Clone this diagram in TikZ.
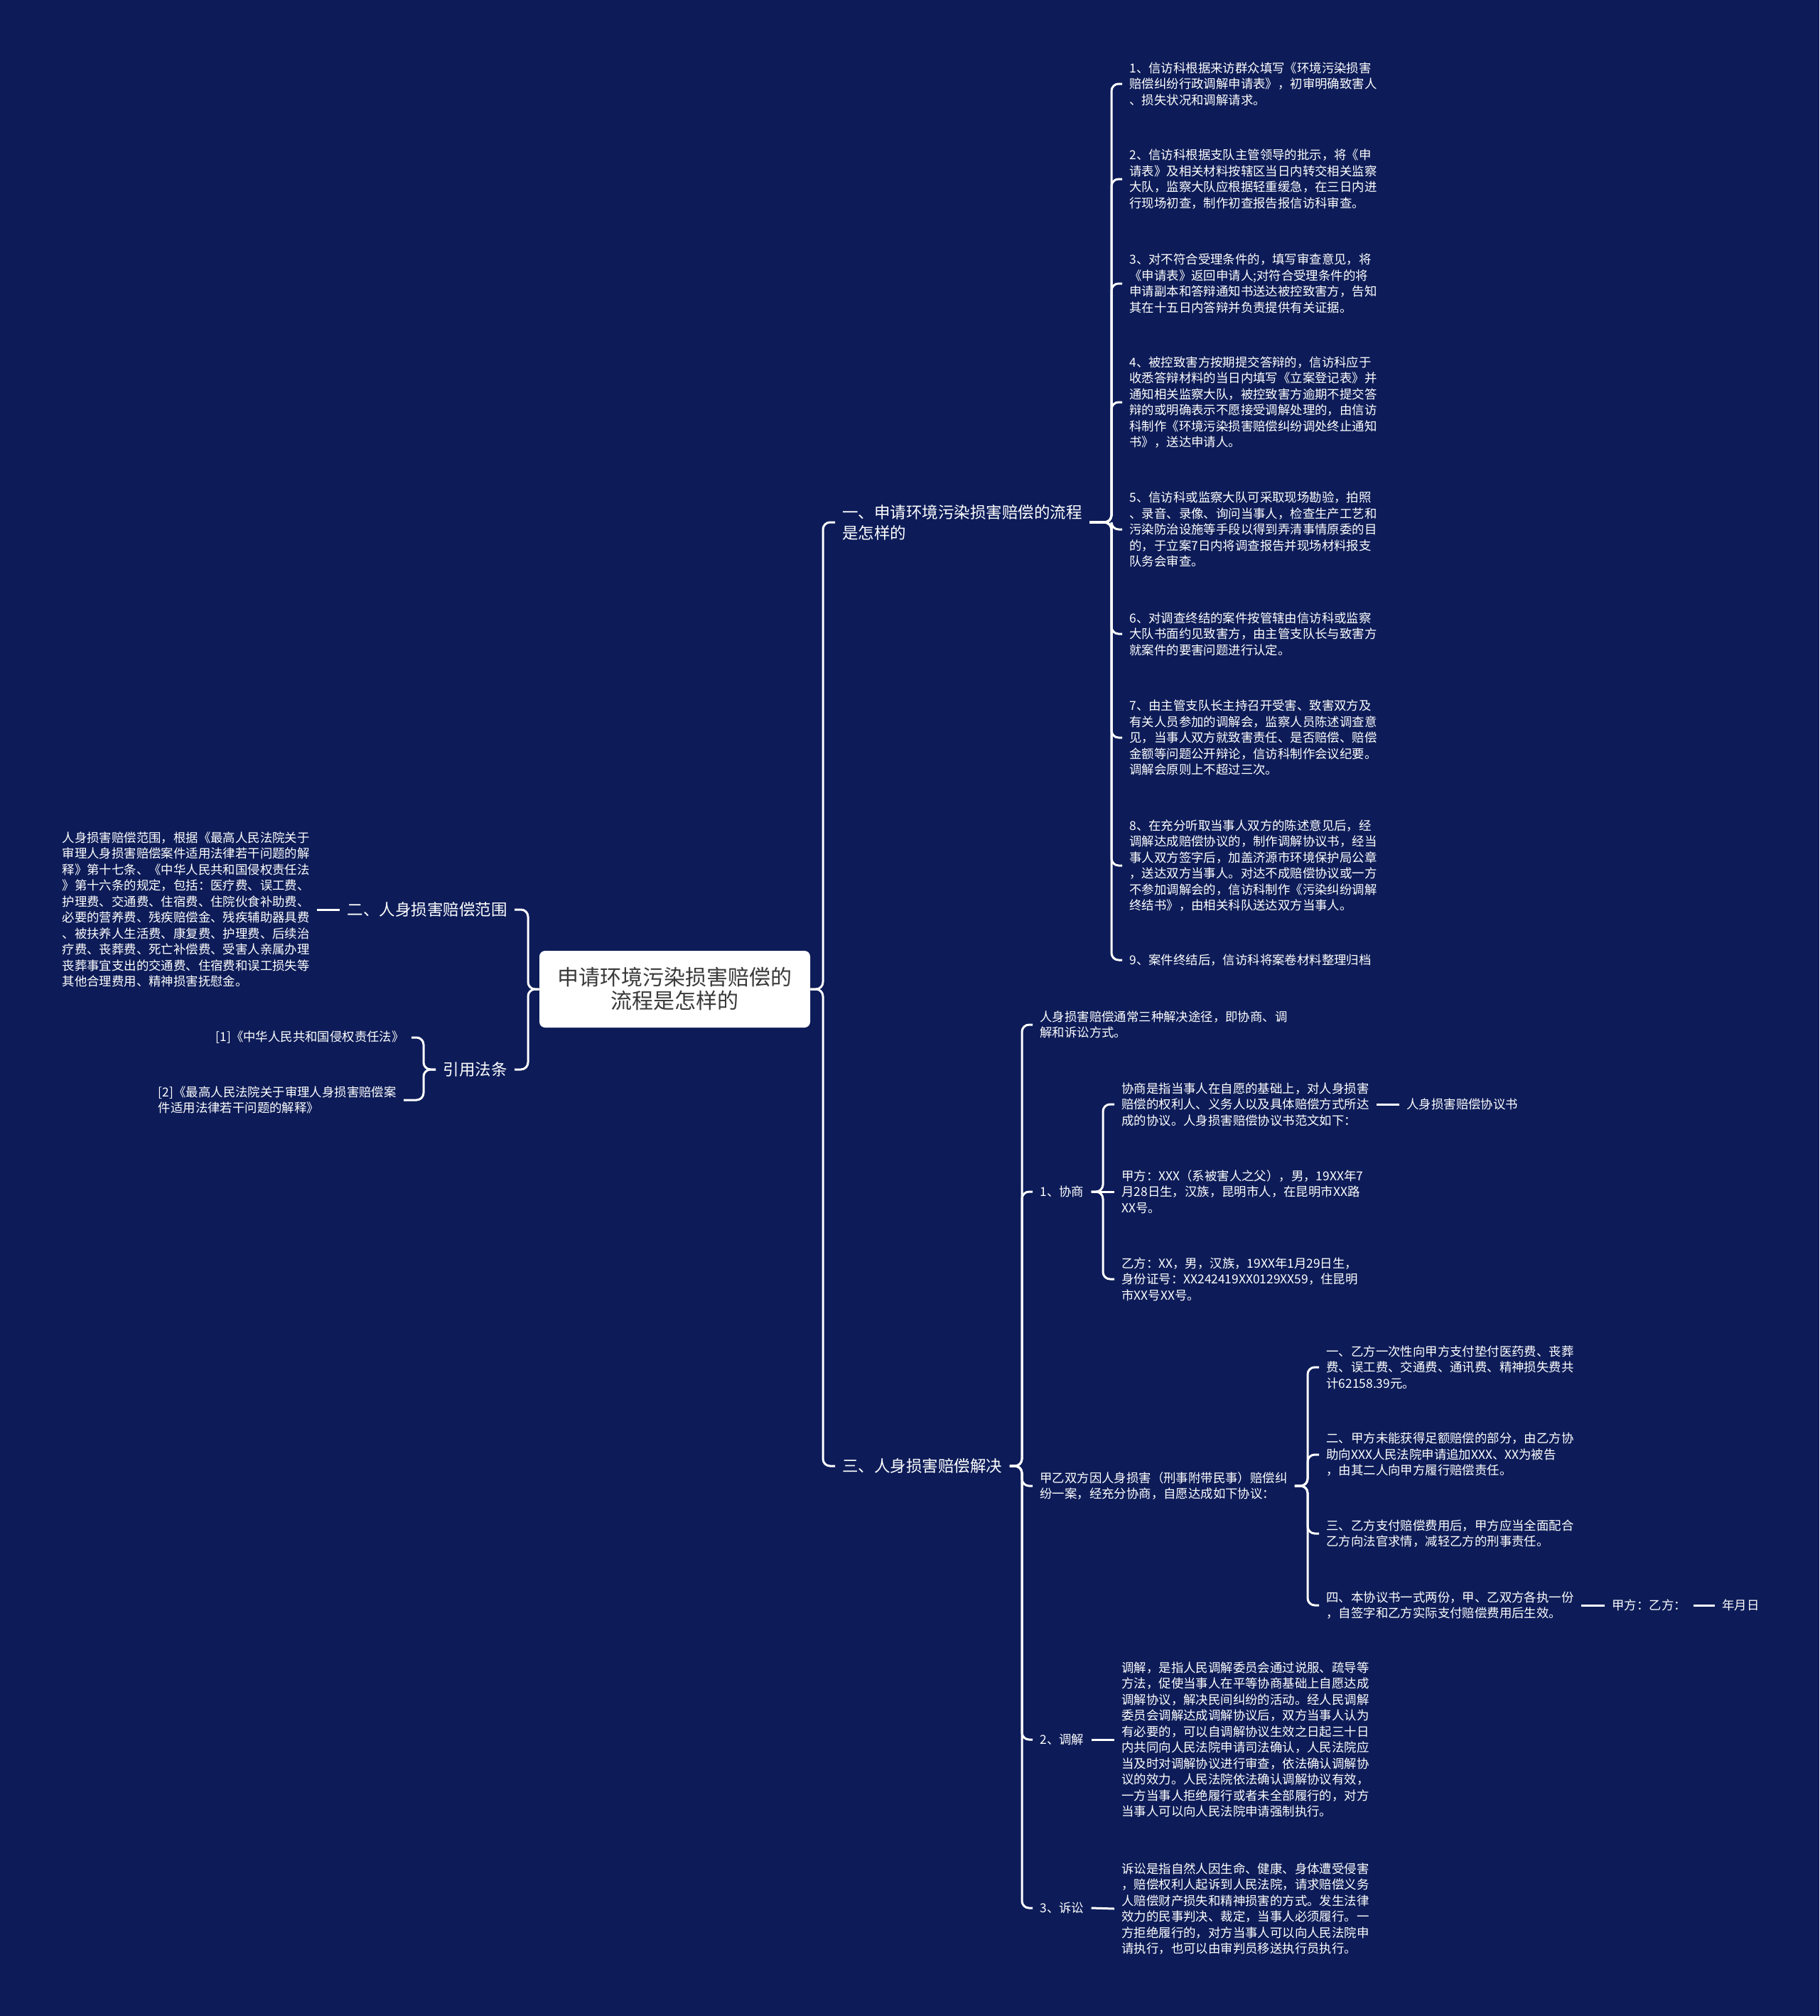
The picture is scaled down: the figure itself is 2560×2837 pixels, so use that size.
\documentclass[tikz,border=0pt]{standalone}
\usepackage{fontspec}
\setmainfont{Noto Sans CJK SC}
\definecolor{bgnavy}{HTML}{0D1C58}
\definecolor{rootgray}{HTML}{3A3A3A}
\begin{document}
\begin{tikzpicture}[
  x=0.5pt, y=-0.5pt,
  leaf/.style={text=white, align=left, inner sep=5pt,
               font=\fontsize{8.7}{11.25}\selectfont},
  branch/.style={text=white, align=left, inner sep=5pt,
                 font=\fontsize{11.25}{14.5}\selectfont},
  rootbox/.style={rectangle, rounded corners=4pt, fill=white, text=rootgray,
                  align=center, minimum width=190.5pt, minimum height=54pt,
                  font=\fontsize{15}{16.5}\selectfont},
  link/.style={draw=white, line width=1.5pt, rounded corners=5pt}
]
\fill[bgnavy] (0,0) rectangle (2560,2837);
\useasboundingbox (0,0) rectangle (2560,2837);

% root
\node[rootbox] (root) at (949.5,1392)
  {申请环境污染损害赔偿的\\流程是怎样的};

% main branches
\node[branch, anchor=west] (b1) at (1175,735)
  {一、申请环境污染损害赔偿的流程\\是怎样的};
\node[branch, anchor=west] (b3) at (1175,2063) {三、人身损害赔偿解决};
\node[branch, anchor=east] (b2) at (724,1280) {二、人身损害赔偿范围};
\node[branch, anchor=east] (yf) at (724,1505) {引用法条};

% branch one: steps
\node[leaf, anchor=west] (s1) at (1579,118)
  {1、信访科根据来访群众填写《环境污染损害\\赔偿纠纷行政调解申请表》，初审明确致害人\\、损失状况和调解请求。};
\node[leaf, anchor=west] (s2) at (1579,252)
  {2、信访科根据支队主管领导的批示，将《申\\请表》及相关材料按辖区当日内转交相关监察\\大队，监察大队应根据轻重缓急，在三日内进\\行现场初查，制作初查报告报信访科审查。};
\node[leaf, anchor=west] (s3) at (1579,399)
  {3、对不符合受理条件的，填写审查意见，将\\《申请表》返回申请人;对符合受理条件的将\\申请副本和答辩通知书送达被控致害方，告知\\其在十五日内答辩并负责提供有关证据。};
\node[leaf, anchor=west] (s4) at (1579,566)
  {4、被控致害方按期提交答辩的，信访科应于\\收悉答辩材料的当日内填写《立案登记表》并\\通知相关监察大队，被控致害方逾期不提交答\\辩的或明确表示不愿接受调解处理的，由信访\\科制作《环境污染损害赔偿纠纷调处终止通知\\书》，送达申请人。};
\node[leaf, anchor=west] (s5) at (1579,745)
  {5、信访科或监察大队可采取现场勘验，拍照\\、录音、录像、询问当事人，检查生产工艺和\\污染防治设施等手段以得到弄清事情原委的目\\的，于立案7日内将调查报告并现场材料报支\\队务会审查。};
\node[leaf, anchor=west] (s6) at (1579,892)
  {6、对调查终结的案件按管辖由信访科或监察\\大队书面约见致害方，由主管支队长与致害方\\就案件的要害问题进行认定。};
\node[leaf, anchor=west] (s7) at (1579,1038)
  {7、由主管支队长主持召开受害、致害双方及\\有关人员参加的调解会，监察人员陈述调查意\\见，当事人双方就致害责任、是否赔偿、赔偿\\金额等问题公开辩论，信访科制作会议纪要。\\调解会原则上不超过三次。};
\node[leaf, anchor=west] (s8) at (1579,1218)
  {8、在充分听取当事人双方的陈述意见后，经\\调解达成赔偿协议的，制作调解协议书，经当\\事人双方签字后，加盖济源市环境保护局公章\\，送达双方当事人。对达不成赔偿协议或一方\\不参加调解会的，信访科制作《污染纠纷调解\\终结书》，由相关科队送达双方当事人。};
\node[leaf, anchor=west] (s9) at (1579,1351)
  {9、案件终结后，信访科将案卷材料整理归档};

% branch two: scope and cited law
\node[leaf, anchor=east] (fw) at (446,1280)
  {人身损害赔偿范围，根据《最高人民法院关于\\审理人身损害赔偿案件适用法律若干问题的解\\释》第十七条、《中华人民共和国侵权责任法\\》第十六条的规定，包括：医疗费、误工费、\\护理费、交通费、住宿费、住院伙食补助费、\\必要的营养费、残疾赔偿金、残疾辅助器具费\\、被扶养人生活费、康复费、护理费、后续治\\疗费、丧葬费、死亡补偿费、受害人亲属办理\\丧葬事宜支出的交通费、住宿费和误工损失等\\其他合理费用、精神损害抚慰金。};
\node[leaf, anchor=east] (yf1) at (579,1460) {[1]《中华人民共和国侵权责任法》};
\node[leaf, anchor=east] (yf2) at (568,1548)
  {[2]《最高人民法院关于审理人身损害赔偿案\\件适用法律若干问题的解释》};

% branch three: ways of settlement
\node[leaf, anchor=west] (tj0) at (1453,1442)
  {人身损害赔偿通常三种解决途径，即协商、调\\解和诉讼方式。};
\node[leaf, anchor=west] (xs) at (1453,1677) {1、协商};
\node[leaf, anchor=west] (xs1) at (1568,1554)
  {协商是指当事人在自愿的基础上，对人身损害\\赔偿的权利人、义务人以及具体赔偿方式所达\\成的协议。人身损害赔偿协议书范文如下：};
\node[leaf, anchor=west] (xs1a) at (1969,1554) {人身损害赔偿协议书};
\node[leaf, anchor=west] (xs2) at (1568,1677)
  {甲方：XXX（系被害人之父），男，19XX年7\\月28日生，汉族，昆明市人，在昆明市XX路\\XX号。};
\node[leaf, anchor=west] (xs3) at (1568,1800)
  {乙方：XX，男，汉族，19XX年1月29日生，\\身份证号：XX242419XX0129XX59，住昆明\\市XX号XX号。};
\node[leaf, anchor=west] (xy) at (1453,2091)
  {甲乙双方因人身损害（刑事附带民事）赔偿纠\\纷一案，经充分协商，自愿达成如下协议：};
\node[leaf, anchor=west] (xy1) at (1856,1924)
  {一、乙方一次性向甲方支付垫付医药费、丧葬\\费、误工费、交通费、通讯费、精神损失费共\\计62158.39元。};
\node[leaf, anchor=west] (xy2) at (1856,2047)
  {二、甲方未能获得足额赔偿的部分，由乙方协\\助向XXX人民法院申请追加XXX、XX为被告\\，由其二人向甲方履行赔偿责任。};
\node[leaf, anchor=west] (xy3) at (1856,2158)
  {三、乙方支付赔偿费用后，甲方应当全面配合\\乙方向法官求情，减轻乙方的刑事责任。};
\node[leaf, anchor=west] (xy4) at (1856,2259)
  {四、本协议书一式两份，甲、乙双方各执一份\\，自签字和乙方实际支付赔偿费用后生效。};
\node[leaf, anchor=west] (qz) at (2258,2259) {甲方：乙方：};
\node[leaf, anchor=west] (rq) at (2413,2259) {年月日};
\node[leaf, anchor=west] (tj) at (1453,2448) {2、调解};
\node[leaf, anchor=west] (tj1) at (1568,2448)
  {调解，是指人民调解委员会通过说服、疏导等\\方法，促使当事人在平等协商基础上自愿达成\\调解协议，解决民间纠纷的活动。经人民调解\\委员会调解达成调解协议后，双方当事人认为\\有必要的，可以自调解协议生效之日起三十日\\内共同向人民法院申请司法确认，人民法院应\\当及时对调解协议进行审查，依法确认调解协\\议的效力。人民法院依法确认调解协议有效，\\一方当事人拒绝履行或者未全部履行的，对方\\当事人可以向人民法院申请强制执行。};
\node[leaf, anchor=west] (ss) at (1453,2685) {3、诉讼};
\node[leaf, anchor=west] (ss1) at (1568,2686)
  {诉讼是指自然人因生命、健康、身体遭受侵害\\，赔偿权利人起诉到人民法院，请求赔偿义务\\人赔偿财产损失和精神损害的方式。发生法律\\效力的民事判决、裁定，当事人必须履行。一\\方拒绝履行的，对方当事人可以向人民法院申\\请执行，也可以由审判员移送执行员执行。};

% trunk points
\coordinate (tR) at (1158,1392);
\coordinate (tL) at (743,1392);
\coordinate (t1) at (1564,735);
\coordinate (t2) at (596,1505);
\coordinate (t3) at (1438,2063);
\coordinate (t31) at (1552,1677);
\coordinate (t32) at (1840,2091);

% connectors
\draw[link] (root.east) -- (tR) |- (b1.west);
\draw[link] (root.east) -- (tR) |- (b3.west);
\draw[link] (root.west) -- (tL) |- (b2.east);
\draw[link] (root.west) -- (tL) |- (yf.east);
\draw[link] (b1.east) -- (t1) |- (s1.west);
\draw[link] (b1.east) -- (t1) |- (s2.west);
\draw[link] (b1.east) -- (t1) |- (s3.west);
\draw[link] (b1.east) -- (t1) |- (s4.west);
\draw[link] (b1.east) -- (t1) |- (s5.west);
\draw[link] (b1.east) -- (t1) |- (s6.west);
\draw[link] (b1.east) -- (t1) |- (s7.west);
\draw[link] (b1.east) -- (t1) |- (s8.west);
\draw[link] (b1.east) -- (t1) |- (s9.west);
\draw[link] (b2.west) -- (fw.east);
\draw[link] (yf.west) -- (t2) |- (yf1.east);
\draw[link] (yf.west) -- (t2) |- (yf2.east);
\draw[link] (b3.east) -- (t3) |- (tj0.west);
\draw[link] (b3.east) -- (t3) |- (xs.west);
\draw[link] (b3.east) -- (t3) |- (xy.west);
\draw[link] (b3.east) -- (t3) |- (tj.west);
\draw[link] (b3.east) -- (t3) |- (ss.west);
\draw[link] (xs.east) -- (t31) |- (xs1.west);
\draw[link] (xs.east) -- (xs2.west);
\draw[link] (xs.east) -- (t31) |- (xs3.west);
\draw[link] (xs1.east) -- (xs1a.west);
\draw[link] (xy.east) -- (t32) |- (xy1.west);
\draw[link] (xy.east) -- (t32) |- (xy2.west);
\draw[link] (xy.east) -- (t32) |- (xy3.west);
\draw[link] (xy.east) -- (t32) |- (xy4.west);
\draw[link] (xy4.east) -- (qz.west);
\draw[link] (qz.east) -- (rq.west);
\draw[link] (tj.east) -- (tj1.west);
\draw[link] (ss.east) -- (ss1.west);
\end{tikzpicture}
\end{document}
